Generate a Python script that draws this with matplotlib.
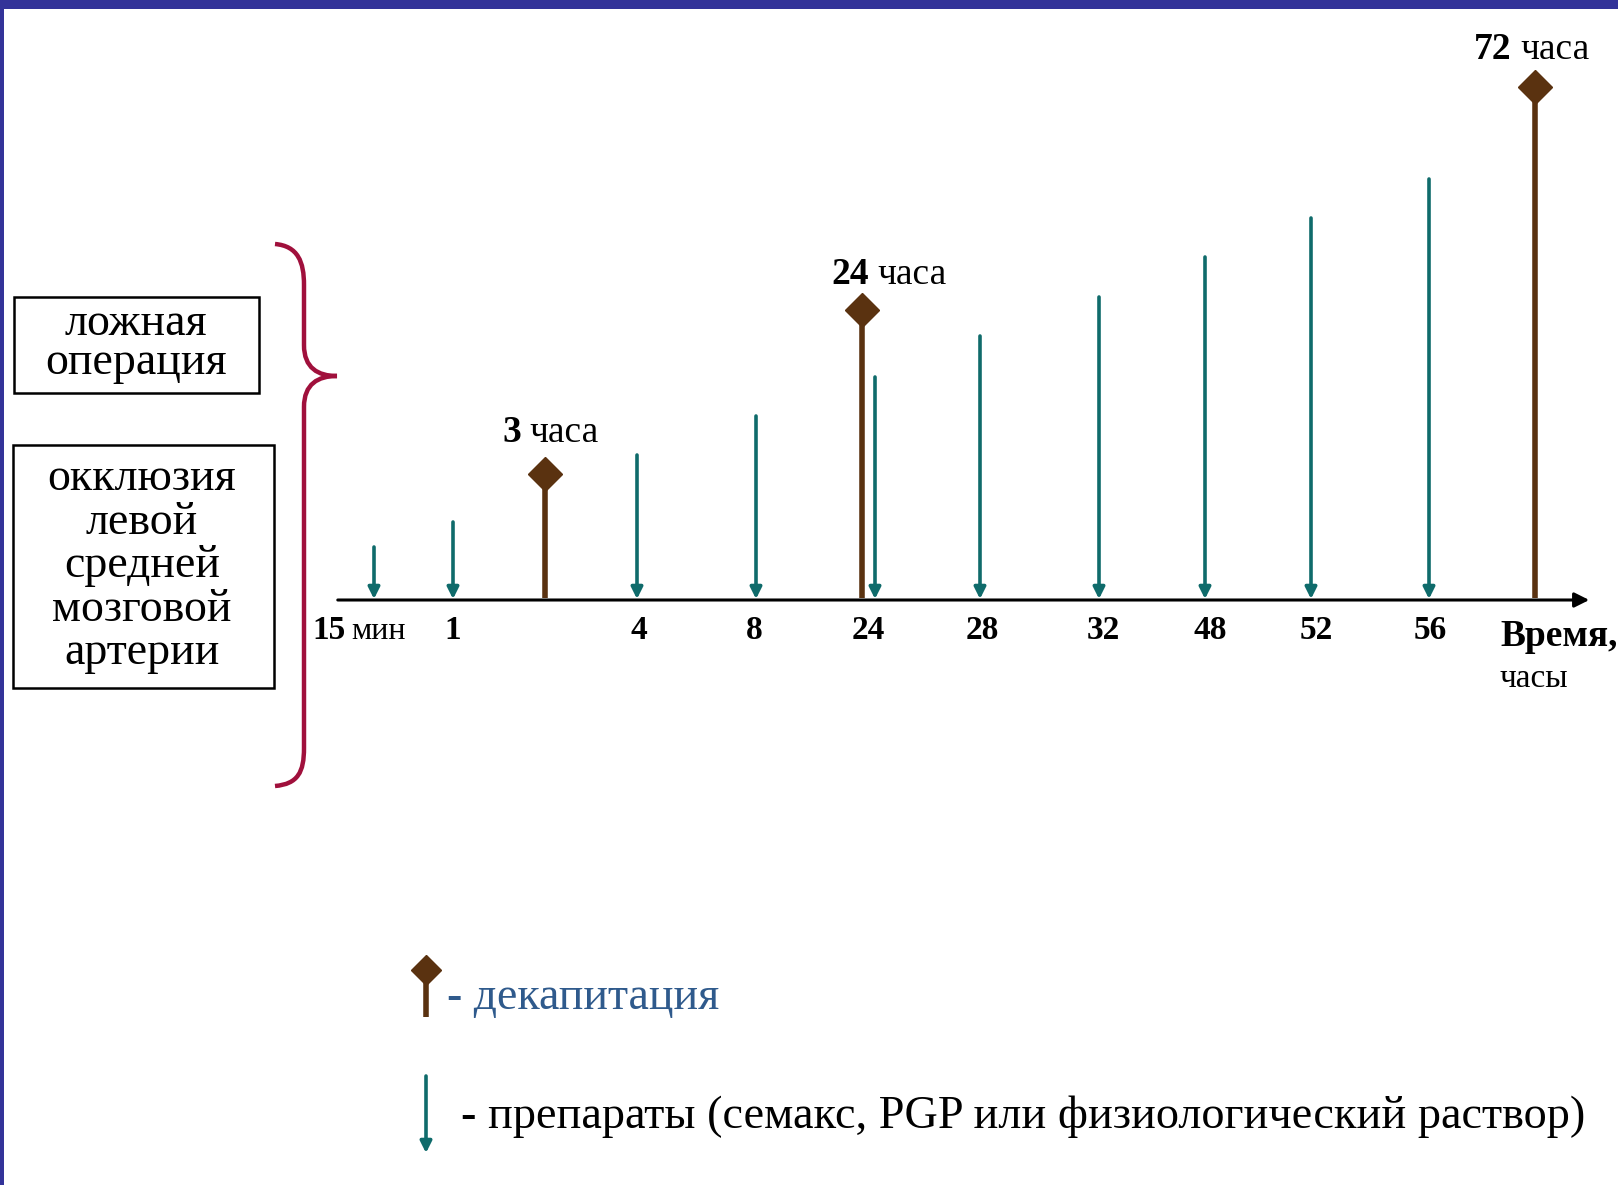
import numpy as np
import matplotlib.pyplot as plt
from matplotlib.path import Path
from matplotlib.patches import PathPatch, Rectangle

plt.rcParams['font.family'] = ['Liberation Serif', 'DejaVu Serif']

# timeline events: label under axis, x position (px) and arrow top (px)
drug_labels = ["15", "1", "4", "8", "24", "28", "32", "48", "52", "56"]
drug_x = [374, 453, 637, 756, 875, 980, 1099, 1205, 1311, 1429]
drug_top = [547, 522, 455, 416, 377, 336, 297, 257, 218, 179]
label_x = [329, 453, 639, 754, 868, 982, 1103, 1210, 1316, 1430]

decap_hours = ["3", "24", "72"]
decap_x = [545, 862, 1535]
decap_top = [474, 310, 87]
decap_label_x = [521, 869, 1512]
decap_label_y = [442, 284, 59]

groups = ["ложная\nоперация", "окклюзия\nлевой\nсредней\nмозговой\nартерии"]

axis_y = 600
teal = "#0f6b6b"
brown = "#5a3210"
crimson = "#a0103c"
navy = "#333399"

fig = plt.figure(figsize=(16.18, 11.85), dpi=100)
ax = fig.add_axes([0, 0, 1, 1])
ax.set_xlim(0, 1618)
ax.set_ylim(1185, 0)
ax.axis("off")

# frame
ax.add_patch(Rectangle((0, 0), 1618, 9, color=navy, lw=0))
ax.add_patch(Rectangle((0, 0), 4, 1185, color=navy, lw=0))

# time axis
ax.annotate("", xy=(1592, axis_y), xytext=(335, axis_y),
            arrowprops=dict(arrowstyle="-|>", color="black", lw=2.2, mutation_scale=22))

# drug arrows
for x, top in zip(drug_x, drug_top):
    ax.annotate("", xy=(x, axis_y - 1), xytext=(x, top),
                arrowprops=dict(arrowstyle="-|>", color=teal, lw=2.6, mutation_scale=17,
                                shrinkA=0, shrinkB=0))

# decapitation marks
for x, top in zip(decap_x, decap_top):
    ax.plot([x, x], [axis_y - 2, top], color=brown, lw=4, solid_capstyle="butt")
    ax.plot(x, top, marker="D", ms=17, color=brown)
for lx, ly, h in zip(decap_label_x, decap_label_y, decap_hours):
    ax.text(lx, ly, h, fontsize=27, fontweight="bold", ha="right", va="baseline")
    ax.text(lx + 8, ly, "часа", fontsize=27, ha="left", va="baseline")

# tick labels
for x, lab in zip(label_x, drug_labels):
    ax.text(x, 639, lab, fontsize=24, fontweight="bold", ha="center", va="baseline")
ax.text(351, 639, "мин", fontsize=23, ha="left", va="baseline")
ax.text(1500, 646, "Время,", fontsize=27, fontweight="bold", ha="left", va="baseline")
ax.text(1500, 687, "часы", fontsize=24, ha="left", va="baseline")

# groups boxes
ax.add_patch(Rectangle((14, 297), 245, 96, fill=False, ec="black", lw=1.8))
ax.text(136, 343, groups[0], fontsize=33, ha="center", va="center",
        multialignment="center", linespacing=0.88)
ax.add_patch(Rectangle((13, 445), 261, 243, fill=False, ec="black", lw=1.8))
ax.text(142, 566, groups[1], fontsize=33, ha="center", va="center",
        multialignment="center", linespacing=1.03)

# brace
verts = [(275, 244), (298, 246), (304, 262), (304, 285),
         (304, 345),
         (304, 368), (318, 376), (337, 376),
         (318, 376), (304, 384), (304, 407),
         (304, 748),
         (304, 772), (298, 784), (275, 786)]
codes = [Path.MOVETO, Path.CURVE4, Path.CURVE4, Path.CURVE4,
         Path.LINETO,
         Path.CURVE4, Path.CURVE4, Path.CURVE4,
         Path.CURVE4, Path.CURVE4, Path.CURVE4,
         Path.LINETO,
         Path.CURVE4, Path.CURVE4, Path.CURVE4]
ax.add_patch(PathPatch(Path(verts, codes), fill=False, ec=crimson, lw=3.2))

# legend
ax.plot([426, 426], [1017, 975], color=brown, lw=4, solid_capstyle="butt")
ax.plot(426, 970, marker="D", ms=15, color=brown)
ax.text(447, 1009, "- декапитация", fontsize=33, color="#2f5a8c", ha="left", va="baseline")
ax.annotate("", xy=(426, 1153), xytext=(426, 1076),
            arrowprops=dict(arrowstyle="-|>", color=teal, lw=2.6, mutation_scale=17,
                            shrinkA=0, shrinkB=0))
ax.text(461, 1128, "- препараты (семакс, PGP или физиологический раствор)", fontsize=33.3,
        ha="left", va="baseline")

plt.savefig("out.png", dpi=100)
